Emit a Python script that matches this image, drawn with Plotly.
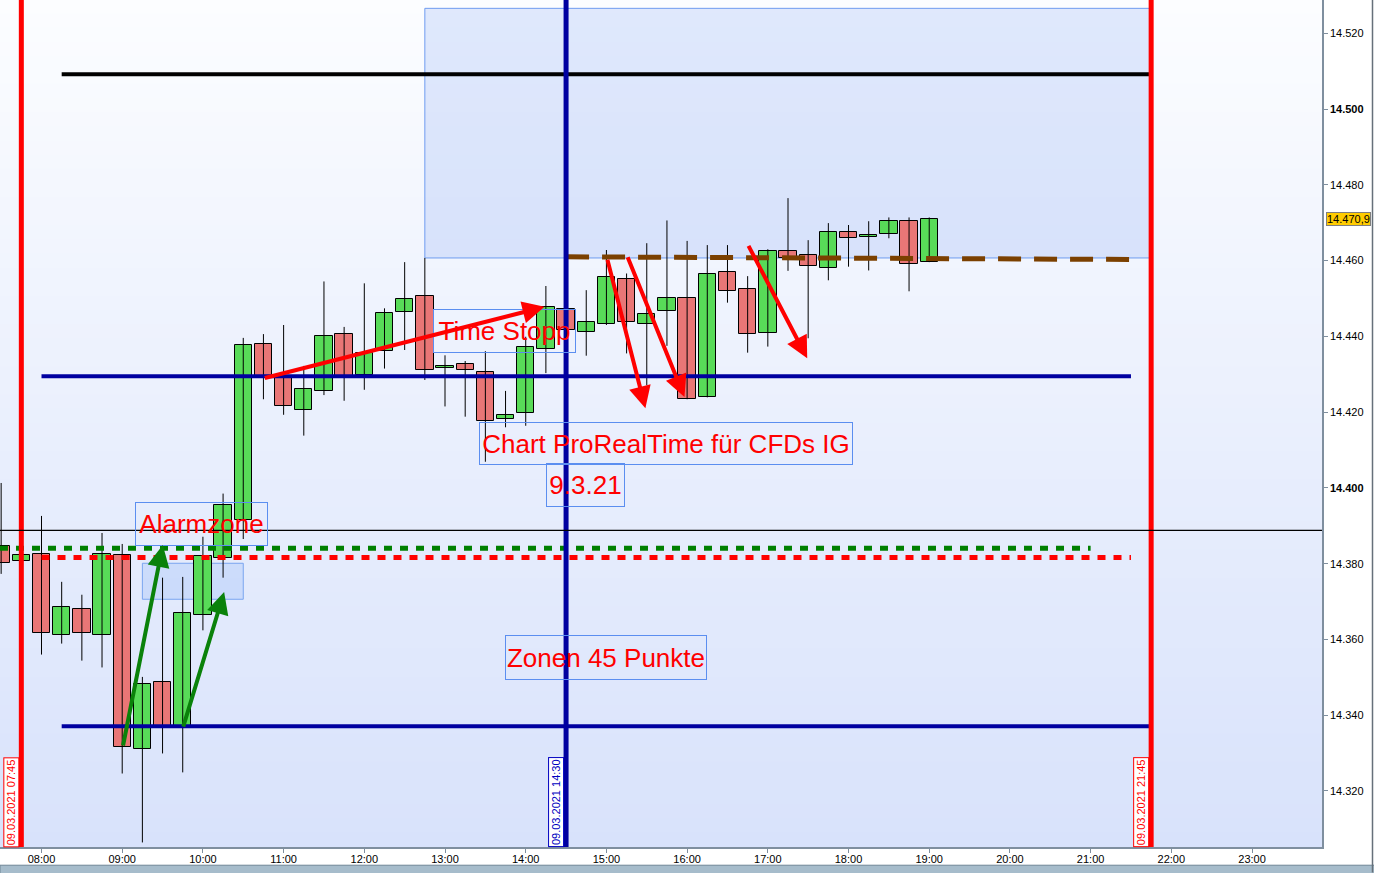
import plotly.graph_objects as go

# ---------------- data ----------------
times = ["07:30", "07:45", "08:00", "08:15", "08:30", "08:45", "09:00", "09:15", "09:30", "09:45",
         "10:00", "10:15", "10:30", "10:45", "11:00", "11:15", "11:30", "11:45", "12:00", "12:15",
         "12:30", "12:45", "13:00", "13:15", "13:30", "13:45", "14:00", "14:15", "14:30", "14:45",
         "15:00", "15:15", "15:30", "15:45", "16:00", "16:15", "16:30", "16:45", "17:00", "17:15",
         "17:30", "17:45", "18:00", "18:15", "18:30", "18:45", "19:00"]
opens = [14384.7, 14380.6, 14382.5, 14361.1, 14368.0, 14361.1, 14382.2, 14331.1, 14348.7, 14337.2,
         14366.4, 14381.4, 14391.6, 14437.9, 14429.4, 14420.5, 14425.5, 14440.6, 14429.8, 14436.1,
         14446.5, 14450.7, 14431.6, 14432.6, 14430.5, 14418.1, 14419.7, 14436.6, 14447.2, 14441.1,
         14443.2, 14455.1, 14443.2, 14446.6, 14450.1, 14423.9, 14456.9, 14452.4, 14440.8, 14462.5,
         14461.4, 14458.0, 14467.5, 14466.3, 14466.9, 14470.4, 14459.6]
highs = [14401.3, 14383.5, 14392.6, 14375.2, 14371.8, 14388.1, 14385.2, 14350.1, 14376.3, 14376.5,
         14387.1, 14398.5, 14439.6, 14440.6, 14443.0, 14432.2, 14454.5, 14442.5, 14454.0, 14447.4,
         14459.6, 14460.7, 14435.0, 14433.5, 14436.1, 14425.6, 14439.9, 14453.3, 14449.0, 14452.2,
         14462.8, 14456.6, 14464.6, 14470.6, 14465.2, 14464.1, 14464.1, 14455.9, 14463.0, 14476.5,
         14465.4, 14469.9, 14469.4, 14470.4, 14471.4, 14471.4, 14471.4]
lows = [14377.3, 14380.0, 14356.0, 14358.9, 14354.4, 14352.6, 14324.6, 14306.4, 14329.9, 14324.9,
        14362.4, 14376.3, 14386.5, 14423.4, 14419.3, 14413.8, 14424.5, 14423.0, 14425.9, 14431.5,
        14436.4, 14428.5, 14421.5, 14418.8, 14406.9, 14416.0, 14416.4, 14430.3, 14439.0, 14434.9,
        14443.0, 14435.5, 14427.1, 14437.5, 14423.4, 14423.9, 14448.9, 14435.7, 14437.3, 14457.3,
        14439.5, 14454.8, 14458.4, 14457.4, 14465.9, 14451.9, 14459.6]
closes = [14380.2, 14382.4, 14361.6, 14368.5, 14361.6, 14382.5, 14331.6, 14348.2, 14337.0, 14366.9,
          14382.0, 14395.4, 14437.7, 14429.3, 14421.6, 14426.0, 14440.0, 14429.6, 14435.5, 14446.1,
          14450.0, 14431.1, 14432.1, 14431.1, 14417.6, 14419.2, 14437.1, 14447.7, 14441.6, 14443.7,
          14455.6, 14443.7, 14446.0, 14450.1, 14423.4, 14456.4, 14451.9, 14440.6, 14462.5, 14460.7,
          14458.5, 14467.5, 14465.9, 14466.5, 14470.4, 14459.0, 14470.9]

x_tick_labels = ["08:00", "09:00", "10:00", "11:00", "12:00", "13:00", "14:00", "15:00",
                 "16:00", "17:00", "18:00", "19:00", "20:00", "21:00", "22:00", "23:00"]
y_tick_values = [14320, 14340, 14360, 14380, 14400, 14420, 14440, 14460, 14480, 14500, 14520]
y_tick_labels = ["14.320", "14.340", "14.360", "14.380", "<b>14.400</b>", "14.420", "14.440",
                 "14.460", "14.480", "<b>14.500</b>", "14.520"]
last_price = 14470.9
last_price_label = "14.470,9"

# horizontal levels
black_level = 14509.2
blue_level_upper = 14429.5
blue_level_lower = 14337.1
green_dotted_level = 14384.1
red_dotted_level = 14381.6
crosshair_level = 14388.8
brown_level_start, brown_level_end = 14461.0, 14460.3

# vertical time markers
red_marker_times = ["07:45", "21:45"]
blue_marker_time = "14:30"
marker_labels = ["09.03.2021 07:45", "09.03.2021 14:30", "09.03.2021 21:45"]

# zones
zone_box_times = ["12:45", "21:45"]
zone_box_prices = [14460.7, 14526.6]
alarm_box_times = ["09:15", "10:30"]
alarm_box_prices = [14370.6, 14380.1]

# text boxes
box_texts = ["Alarmzone", "Time Stopp", "Chart ProRealTime für CFDs IG", "9.3.21", "Zonen 45 Punkte"]
box_hours = [9.984, 13.741, 15.743, 14.745, 15.000]
box_prices = [14390.4, 14441.4, 14411.7, 14400.7, 14355.2]

# arrows (tail hour, tail price, head hour, head price)
red_arrow_tail_h = [10.748, 15.008, 15.256, 16.751]
red_arrow_tail_p = [14428.9, 14460.6, 14461.3, 14464.3]
red_arrow_head_h = [14.233, 15.483, 15.967, 17.488]
red_arrow_head_p = [14447.8, 14421.0, 14424.0, 14434.2]
green_arrow_tail_h = [9.007, 9.751]
green_arrow_tail_p = [14331.6, 14336.6]
green_arrow_head_h = [9.503, 10.263]
green_arrow_head_p = [14384.9, 14372.5]


def hrs(s):
    h, m = s.split(":")
    return int(h) + int(m) / 60.0


xs = [hrs(t) for t in times]
x_range = [7.4857, 23.867]
y_range = [14305.2, 14528.8]

fig = go.Figure()

# wicks
wx, wy = [], []
for x, h, l in zip(xs, highs, lows):
    wx += [x, x, None]
    wy += [l, h, None]
fig.add_trace(go.Scatter(x=wx, y=wy, mode="lines", line=dict(color="black", width=1),
                         hoverinfo="skip", showlegend=False))

# bodies
base = [min(o, c) for o, c in zip(opens, closes)]
height = [max(abs(c - o), 0.35) for o, c in zip(opens, closes)]
cols = ["#58db58" if c >= o else "#e97676" for o, c in zip(opens, closes)]
fig.add_trace(go.Bar(x=xs, y=height, base=base, width=0.215,
                     marker=dict(color=cols, line=dict(color="black", width=1)),
                     hoverinfo="skip", showlegend=False))

shapes = []
# background gradient
n = 60
top = (252, 253, 255)
bot = (216, 226, 251)
for i in range(n):
    f = (i + 0.5) / n
    c = tuple(int(round(top[k] + (bot[k] - top[k]) * f)) for k in range(3))
    shapes.append(dict(type="rect", xref="paper", yref="paper", x0=0, x1=1,
                       y0=1 - (i + 1) / n, y1=1 - i / n + 0.001,
                       fillcolor="rgb(%d,%d,%d)" % c, line=dict(width=0), layer="below"))
# zone rectangles
shapes.append(dict(type="rect", xref="x", yref="y",
                   x0=hrs(zone_box_times[0]), x1=hrs(zone_box_times[1]),
                   y0=zone_box_prices[0], y1=zone_box_prices[1],
                   fillcolor="rgba(140,170,245,0.25)", line=dict(color="#6f9cf0", width=1), layer="below"))
shapes.append(dict(type="rect", xref="x", yref="y",
                   x0=hrs(alarm_box_times[0]), x1=hrs(alarm_box_times[1]),
                   y0=alarm_box_prices[0], y1=alarm_box_prices[1],
                   fillcolor="rgba(150,185,250,0.3)", line=dict(color="#7aa5f0", width=1), layer="below"))

def hline(x0, x1, y0, y1, color, width, dash="solid"):
    return dict(type="line", xref="x", yref="y", x0=x0, x1=x1, y0=y0, y1=y1,
                line=dict(color=color, width=width, dash=dash), layer="above")

shapes.append(hline(8.25, 21.75, black_level, black_level, "black", 4))
shapes.append(hline(8.0, 21.5, blue_level_upper, blue_level_upper, "#0000a0", 4))
shapes.append(hline(8.25, 21.75, blue_level_lower, blue_level_lower, "#0000a0", 4))
shapes.append(hline(x_range[0], 21.0, green_dotted_level, green_dotted_level, "#008000", 5, "8px,8px"))
shapes.append(hline(8.0, 21.5, red_dotted_level, red_dotted_level, "#ff0000", 5, "8px,8px"))
shapes.append(hline(14.5, 21.5, brown_level_start, brown_level_end, "#7b4000", 5, "23px,13px"))
# vertical markers
for t in red_marker_times:
    shapes.append(dict(type="line", xref="x", yref="paper", x0=hrs(t), x1=hrs(t), y0=0, y1=1,
                       line=dict(color="#ff0000", width=5), layer="above"))
shapes.append(dict(type="line", xref="x", yref="paper", x0=hrs(blue_marker_time), x1=hrs(blue_marker_time),
                   y0=0, y1=1, line=dict(color="#0000a0", width=5), layer="above"))
# thin crosshair line
shapes.append(dict(type="line", xref="paper", yref="y", x0=0, x1=1, y0=crosshair_level, y1=crosshair_level,
                   line=dict(color="black", width=1.3), layer="above"))
# bottom scrollbar & right border
shapes.append(dict(type="rect", xref="paper", yref="paper", x0=0, x1=1.04, y0=-0.036, y1=-0.0215,
                   fillcolor="#a6bccb", line=dict(color="#6f8595", width=1)))
shapes.append(dict(type="line", xref="paper", yref="paper", x0=1.0382, x1=1.0382, y0=-0.03, y1=1,
                   line=dict(color="#66707a", width=1.5)))

annotations = []
# text boxes
box_sizes = [(131, 42), (141, 42), (372, 41), (77, 42), (200, 43)]
for txt, h, p, (w, hh) in zip(box_texts, box_hours, box_prices, box_sizes):
    annotations.append(dict(x=h, y=p, xref="x", yref="y", text=txt, showarrow=False,
                            font=dict(family="Arial, Liberation Sans", size=26, color="#ff0000"),
                            bordercolor="#5b8ef0", borderwidth=1, borderpad=0,
                            width=w, height=hh, bgcolor="rgba(0,0,0,0)"))
# arrows
for th, tp, hh, hp in zip(red_arrow_tail_h, red_arrow_tail_p, red_arrow_head_h, red_arrow_head_p):
    annotations.append(dict(x=hh, y=hp, ax=th, ay=tp, xref="x", yref="y", axref="x", ayref="y",
                            text="", showarrow=True, arrowhead=2, arrowsize=1.1, arrowwidth=4,
                            arrowcolor="#ff0000"))
for th, tp, hh, hp in zip(green_arrow_tail_h, green_arrow_tail_p, green_arrow_head_h, green_arrow_head_p):
    annotations.append(dict(x=hh, y=hp, ax=th, ay=tp, xref="x", yref="y", axref="x", ayref="y",
                            text="", showarrow=True, arrowhead=2, arrowsize=1.1, arrowwidth=4,
                            arrowcolor="#0a820a"))
# vertical date labels
label_times = [red_marker_times[0], blue_marker_time, red_marker_times[1]]
label_cols = ["#ff0000", "#0000c0", "#ff0000"]
for t, txt, c in zip(label_times, marker_labels, label_cols):
    annotations.append(dict(x=hrs(t), y=0, xref="x", yref="paper", text=txt, showarrow=False,
                            textangle=-90, xanchor="right", yanchor="bottom", xshift=-2,
                            font=dict(family="Arial, Liberation Sans", size=11, color=c),
                            bgcolor="white", bordercolor=c, borderwidth=1, borderpad=1))
# last price tag
annotations.append(dict(x=1, y=last_price, xref="paper", yref="y", text=last_price_label,
                        showarrow=False, xanchor="left", xshift=4,
                        font=dict(family="Arial, Liberation Sans", size=11, color="black"),
                        bgcolor="#ffcc00", bordercolor="#7f7f7f", borderwidth=1, borderpad=0))

fig.update_layout(
    width=1374, height=873,
    margin=dict(l=0, r=52, t=0, b=26),
    paper_bgcolor="white", plot_bgcolor="#eef3fd",
    shapes=shapes, annotations=annotations,
    showlegend=False, bargap=0,
    xaxis=dict(range=x_range, tickvals=[hrs(t) for t in x_tick_labels], ticktext=x_tick_labels,
               ticks="outside", ticklen=4, tickcolor="#7f8f9f", showgrid=False, zeroline=False,
               showline=True, linecolor="#7f8f9f", linewidth=1.5, ticklabelstandoff=-3,
               tickfont=dict(family="Arial, Liberation Sans", size=11, color="black")),
    yaxis=dict(range=y_range, side="right", tickvals=y_tick_values, ticktext=y_tick_labels,
               ticks="outside", ticklen=4, tickcolor="#7f8f9f", showgrid=False, zeroline=False,
               showline=True, linecolor="#7f8f9f", linewidth=1.5,
               tickfont=dict(family="Arial, Liberation Sans", size=11, color="black")),
)

fig.write_html("out.html", config={"displayModeBar": False},
               post_script="document.body.style.margin='0';document.body.style.overflow='hidden';")
